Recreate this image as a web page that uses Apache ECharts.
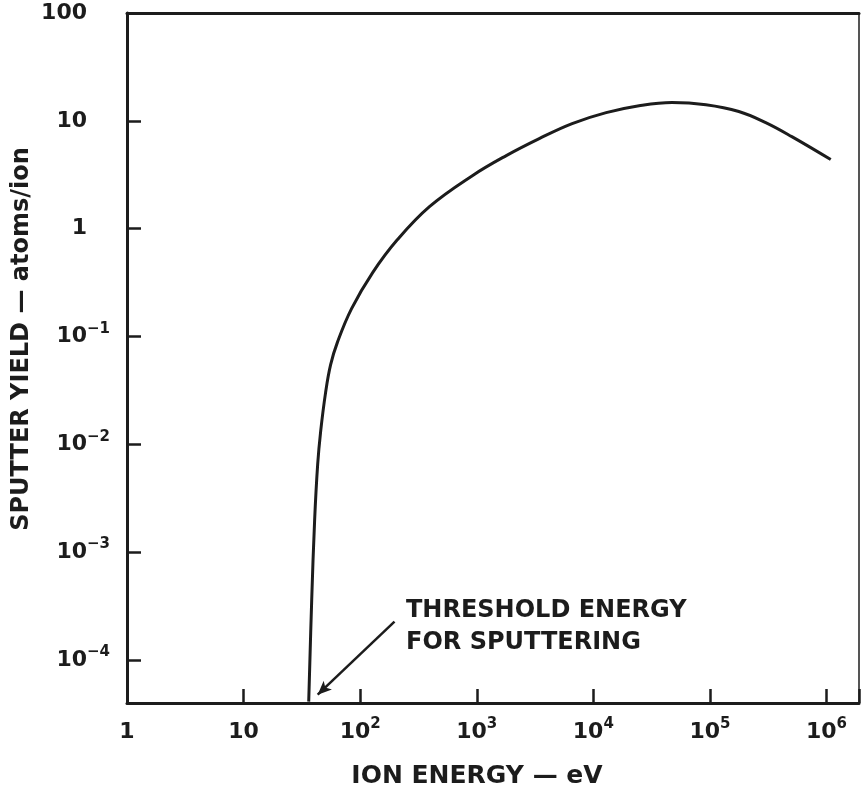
<!DOCTYPE html>
<html>
<head>
<meta charset="utf-8">
<script src="https://cdn.jsdelivr.net/npm/echarts@6/dist/echarts.min.js"></script>
<style>
html, body { margin: 0; padding: 0; background: #fff; }
#main { width: 862px; height: 791px; }
</style>
</head>
<body>
<div id="main"></div>
<script>
// curve: ion energy (eV) vs sputter yield (atoms/ion)
var energy = [36.2, 38.4, 40.7, 43.2, 45.8, 50.5, 55.8, 64.1, 84.4, 128, 209, 393, 917, 1792, 3436, 6580, 12880, 24660, 47300, 92400, 177000, 301000, 504000, 1087000];
var yieldVals = [4.1e-5, 3.6e-4, 2.0e-3, 6.5e-3, 0.0131, 0.0301, 0.0547, 0.0895, 0.181, 0.391, 0.791, 1.60, 3.10, 4.76, 6.84, 9.42, 11.9, 13.8, 14.8, 14.1, 12.2, 9.62, 7.13, 4.37];

var xMin = 1, xMax = 1.9e6;
var yMin = 3.98e-5, yMax = 100;

// threshold annotation arrow (tail, head) in data units
var arrowTail = [197, 2.26e-4];
var arrowHead = [43.2, 4.75e-5];

var ink = '#1c1c1c';
var font = '"DejaVu Sans", sans-serif';

var rich = {
    b: { fontFamily: font, fontWeight: 'bold', fontSize: 22, lineHeight: 30, color: ink },
    s: { fontFamily: font, fontWeight: 'bold', fontSize: 15, lineHeight: 18, color: ink, verticalAlign: 'top' },
    p: { width: 23 }
};

function expOf(v) { return Math.log(v) / Math.LN10; }

function isDecade(v) { var e = expOf(v); return Math.abs(e - Math.round(e)) < 1e-6; }

function xLabel(v) {
    if (!isDecade(v)) return '';
    var e = Math.round(expOf(v));
    if (e === 0) return '{b|1}';
    if (e === 1) return '{b|10}';
    return '{b|10}{s|' + e + '}';
}

function yLabel(v) {
    if (!isDecade(v)) return '';
    var e = Math.round(expOf(v));
    if (e >= 0) return '{b|' + Math.pow(10, e) + '}{p|}';
    return '{b|10}{s|\u2212' + (-e) + '}';
}

var points = energy.map(function (x, i) { return [x, yieldVals[i]]; });

var myChart = echarts.init(document.getElementById('main'));
var option = {
    animation: false,
    backgroundColor: '#fff',
    grid: { left: 127, right: 1, top: 13, bottom: 88 },
    xAxis: [{
        type: 'log',
        min: xMin,
        max: xMax,
        position: 'bottom',
        axisLine: { show: true, lineStyle: { color: ink, width: 3 } },
        axisTick: { show: true, inside: true, length: 14, lineStyle: { color: ink, width: 2.5 } },
        axisLabel: { formatter: xLabel, rich: rich, margin: 14, showMinLabel: true, showMaxLabel: true, hideOverlap: false },
        splitLine: { show: false },
        minorTick: { show: false }
    }, {
        type: 'log',
        min: xMin,
        max: xMax,
        position: 'top',
        axisLine: { show: true, lineStyle: { color: ink, width: 3 } },
        axisTick: { show: false },
        axisLabel: { show: false },
        splitLine: { show: false }
    }],
    yAxis: [{
        type: 'log',
        min: yMin,
        max: yMax,
        position: 'left',
        axisLine: { show: true, lineStyle: { color: ink, width: 3 } },
        axisTick: { show: true, inside: true, length: 14, lineStyle: { color: ink, width: 2.5 } },
        axisLabel: { formatter: yLabel, rich: rich, margin: 17, showMinLabel: true, showMaxLabel: true, hideOverlap: false },
        splitLine: { show: false }
    }, {
        type: 'log',
        min: yMin,
        max: yMax,
        position: 'right',
        axisLine: { show: true, lineStyle: { color: ink, width: 1.5 } },
        axisTick: { show: false },
        axisLabel: { show: false },
        splitLine: { show: false }
    }],
    series: [{
        name: 'Sputter yield',
        type: 'line',
        data: points,
        showSymbol: false,
        smooth: 0.4,
        lineStyle: { color: ink, width: 3 },
        markLine: {
            silent: true,
            symbol: ['none', 'arrow'],
            symbolSize: [9, 14],
            label: { show: false },
            lineStyle: { color: ink, width: 2.5, type: 'solid' },
            data: [[{ coord: arrowTail }, { coord: arrowHead }]]
        }
    }],
    graphic: [{
        type: 'text',
        left: 406,
        top: 595,
        style: {
            text: 'THRESHOLD ENERGY\nFOR SPUTTERING',
            font: 'bold 24px ' + font,
            lineHeight: 32,
            fill: ink
        }
    }, {
        type: 'text',
        x: 477,
        y: 776,
        style: {
            text: 'ION ENERGY \u2014 eV',
            font: 'bold 25px ' + font,
            align: 'center',
            verticalAlign: 'middle',
            fill: ink
        }
    }, {
        type: 'text',
        x: 22,
        y: 339,
        rotation: Math.PI / 2,
        style: {
            text: 'SPUTTER YIELD \u2014 atoms/ion',
            font: 'bold 24px ' + font,
            align: 'center',
            verticalAlign: 'middle',
            fill: ink
        }
    }]
};
myChart.setOption(option);
</script>
</body>
</html>
